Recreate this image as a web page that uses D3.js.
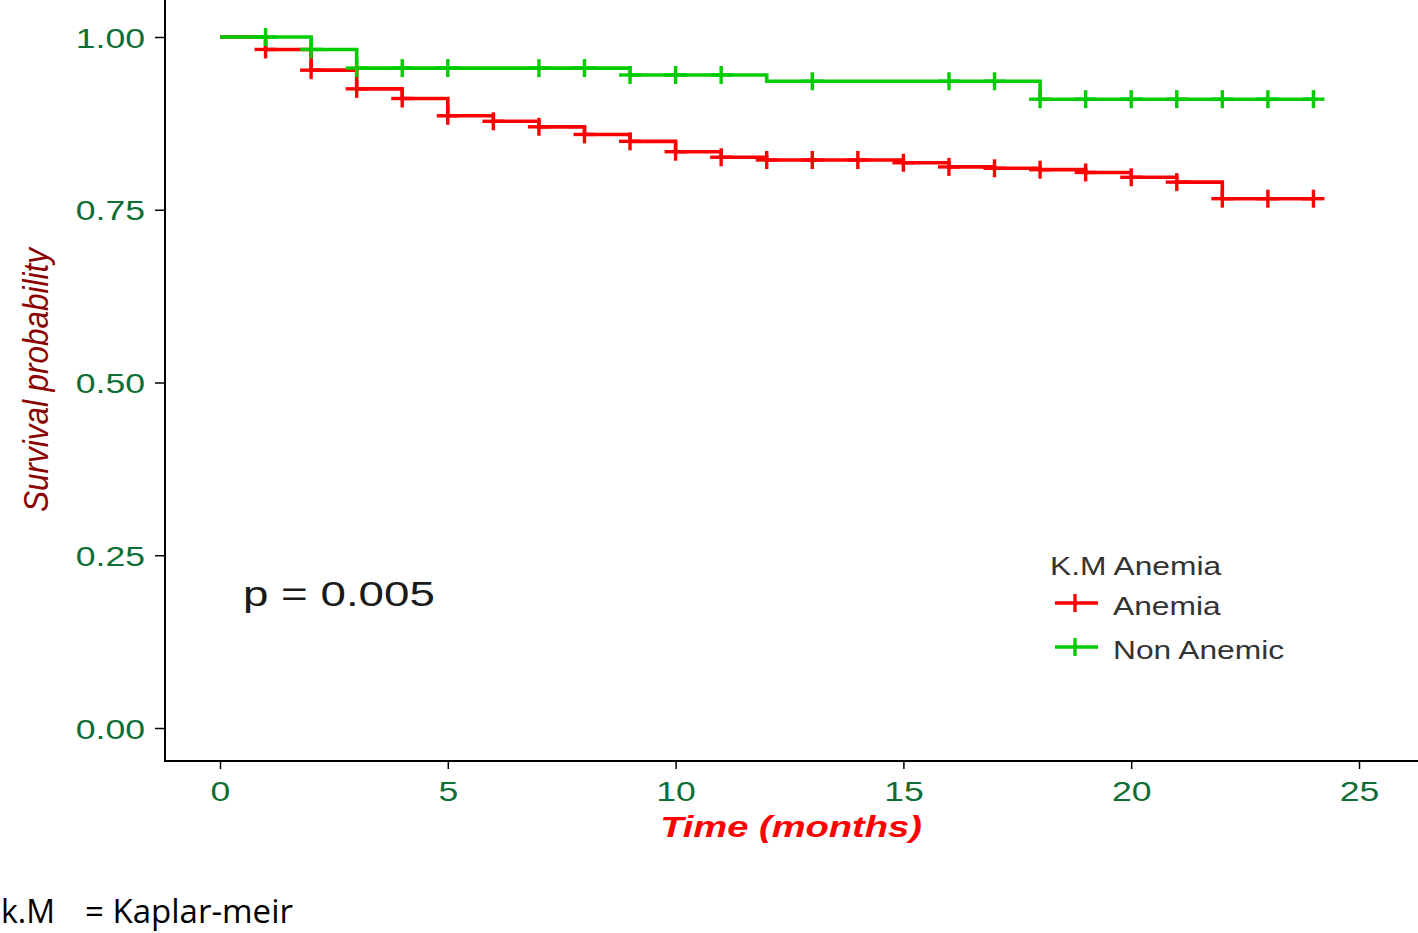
<!DOCTYPE html>
<html>
<head>
<meta charset="utf-8">
<script src="https://cdn.jsdelivr.net/npm/d3@7"></script>
<style>
  html, body { margin: 0; padding: 0; background: #fff; }
  svg { display: block; }
</style>
</head>
<body>
<svg id="chart" width="1418" height="933"></svg>
<script>
// ---- data ----
const xTicks = [0, 5, 10, 15, 20, 25];
const yTicks = [0, 0.25, 0.5, 0.75, 1.0];
const seriesNames = ["Anemia", "Non Anemic"];
const seriesColors = ["#ff0000", "#00cc00"];

const anemiaTimes = [0, 1, 2, 3, 4, 5, 6, 7, 8, 9, 10, 11, 12, 13, 14, 15, 16, 17, 18, 19, 20, 21, 22, 23, 24];
const anemiaSurv  = [1.0, 0.982, 0.952, 0.925, 0.911, 0.886, 0.878, 0.870, 0.859, 0.849, 0.834, 0.826, 0.822, 0.822, 0.822, 0.818, 0.812, 0.810, 0.808, 0.804, 0.797, 0.790, 0.766, 0.766, 0.766];
const anemiaCensor = [1, 2, 3, 4, 5, 6, 7, 8, 9, 10, 11, 12, 13, 14, 15, 16, 17, 18, 19, 20, 21, 22, 23, 24];

const nonAnemicTimes = [0, 2, 3, 9, 12, 18, 24];
const nonAnemicSurv  = [1.0, 0.982, 0.955, 0.945, 0.936, 0.910, 0.910];
const nonAnemicCensor = [1, 2, 3, 4, 5, 7, 8, 9, 10, 11, 13, 16, 17, 18, 19, 20, 21, 22, 23, 24];

const pText = "p = 0.005";
const legendTitle = "K.M Anemia";
const xTitle = "Time (months)";
const yTitle = "Survival probability";
const noteAbbr = "k.M";
const noteText = "= Kaplar-meir";

// ---- layout ----
const SX = 1.27;           // horizontal stretch seen in the reference text
const FONT = "'Liberation Sans', Arial, sans-serif";
const svg = d3.select("#chart");

const x = d3.scaleLinear().domain([0, 25]).range([220, 1359]);
const y = d3.scaleLinear().domain([0, 1]).range([728, 37]);
const axisLeftX = 165, axisBottomY = 761;

function stepValue(times, surv, t) {
  let v = surv[0];
  for (let i = 0; i < times.length; i++) if (times[i] <= t) v = surv[i];
  return v;
}

// axes lines
svg.append("line").attr("x1", axisLeftX).attr("x2", axisLeftX).attr("y1", 0).attr("y2", axisBottomY + 1)
  .attr("stroke", "#000").attr("stroke-width", 2);
svg.append("line").attr("x1", axisLeftX - 1).attr("x2", 1418).attr("y1", axisBottomY).attr("y2", axisBottomY)
  .attr("stroke", "#000").attr("stroke-width", 2);

// y axis
const yAxis = svg.append("g").attr("transform", `translate(${axisLeftX},0)`)
  .call(d3.axisLeft(y).tickValues(yTicks).tickFormat(d3.format(".2f")).tickSize(10).tickSizeOuter(0));
yAxis.select(".domain").remove();
yAxis.selectAll(".tick line").attr("stroke", "#000").attr("stroke-width", 1.5);
yAxis.selectAll(".tick text")
  .attr("font-family", FONT).attr("font-size", 28).attr("fill", "#0f6e35")
  .attr("x", -20 / SX).attr("dy", "0.36em")
  .attr("transform", `scale(${SX},1)`);

// x axis
const xAxis = svg.append("g").attr("transform", `translate(0,${axisBottomY})`)
  .call(d3.axisBottom(x).tickValues(xTicks).tickFormat(d3.format("d")).tickSize(8).tickSizeOuter(0));
xAxis.select(".domain").remove();
xAxis.selectAll(".tick line").attr("stroke", "#000").attr("stroke-width", 1.5);
xAxis.selectAll(".tick text")
  .attr("font-family", FONT).attr("font-size", 28).attr("fill", "#0f6e35")
  .attr("y", 40).attr("dy", 0)
  .attr("transform", `scale(${SX},1)`);

// curves
const line = d3.line().x(d => x(d[0])).y(d => y(d[1])).curve(d3.curveStepAfter);
const series = [
  { times: anemiaTimes, surv: anemiaSurv, censor: anemiaCensor, color: seriesColors[0] },
  { times: nonAnemicTimes, surv: nonAnemicSurv, censor: nonAnemicCensor, color: seriesColors[1] }
];
const ARM_X = 11, ARM_Y = 9;
series.forEach(s => {
  svg.append("path")
    .datum(s.times.map((t, i) => [t, s.surv[i]]))
    .attr("d", line).attr("fill", "none").attr("stroke", s.color).attr("stroke-width", 3.6);
  const g = svg.append("g").attr("stroke", s.color).attr("stroke-width", 3.4);
  s.censor.forEach(t => {
    const cx = x(t), cy = y(stepValue(s.times, s.surv, t));
    g.append("line").attr("x1", cx - ARM_X).attr("x2", cx + ARM_X).attr("y1", cy).attr("y2", cy);
    g.append("line").attr("x1", cx).attr("x2", cx).attr("y1", cy - ARM_Y).attr("y2", cy + ARM_Y);
  });
});

// text helper
function sText(px, py, str, opts) {
  const t = svg.append("text")
    .attr("transform", `translate(${px},${py}) scale(${SX},1)` + (opts.rotate ? ` rotate(${opts.rotate})` : ""))
    .attr("font-family", opts.family || FONT)
    .attr("font-size", opts.size)
    .attr("fill", opts.fill || "#000")
    .attr("text-anchor", opts.anchor || "start")
    .text(str);
  if (opts.style) t.attr("font-style", opts.style);
  if (opts.weight) t.attr("font-weight", opts.weight);
  if (opts.len) t.attr("textLength", opts.len).attr("lengthAdjust", "spacingAndGlyphs");
  return t;
}

// axis titles
sText(791, 837, xTitle, { size: 30, fill: "#ff0000", anchor: "middle", style: "italic", weight: "bold" });
sText(48, 380, yTitle, { size: 27, fill: "#8b0000", anchor: "middle", style: "italic", rotate: -90, len: 264 });

// p-value
sText(243, 606, pText, { size: 36, fill: "#1a1a1a" });

// legend
sText(1050, 575, legendTitle, { size: 25, fill: "#333" });
const legendRows = [603, 647];
seriesNames.forEach((name, i) => {
  const ly = legendRows[i];
  svg.append("line").attr("x1", 1055).attr("x2", 1098).attr("y1", ly).attr("y2", ly)
    .attr("stroke", seriesColors[i]).attr("stroke-width", 3.6);
  svg.append("line").attr("x1", 1075).attr("x2", 1075).attr("y1", ly - ARM_Y).attr("y2", ly + ARM_Y)
    .attr("stroke", seriesColors[i]).attr("stroke-width", 3.4);
  sText(1113, ly + 12, name, { size: 25, fill: "#333" });
});

// footnote
svg.append("text").attr("x", 1).attr("y", 923).attr("font-family", "'Open Sans', 'Noto Sans', sans-serif")
  .attr("font-size", 33).attr("fill", "#000").attr("textLength", 54).attr("lengthAdjust", "spacingAndGlyphs").text(noteAbbr);
svg.append("text").attr("x", 85).attr("y", 923).attr("font-family", "'Open Sans', 'Noto Sans', sans-serif")
  .attr("font-size", 33).attr("fill", "#000").attr("textLength", 208).attr("lengthAdjust", "spacingAndGlyphs").text(noteText);
</script>
</body>
</html>
